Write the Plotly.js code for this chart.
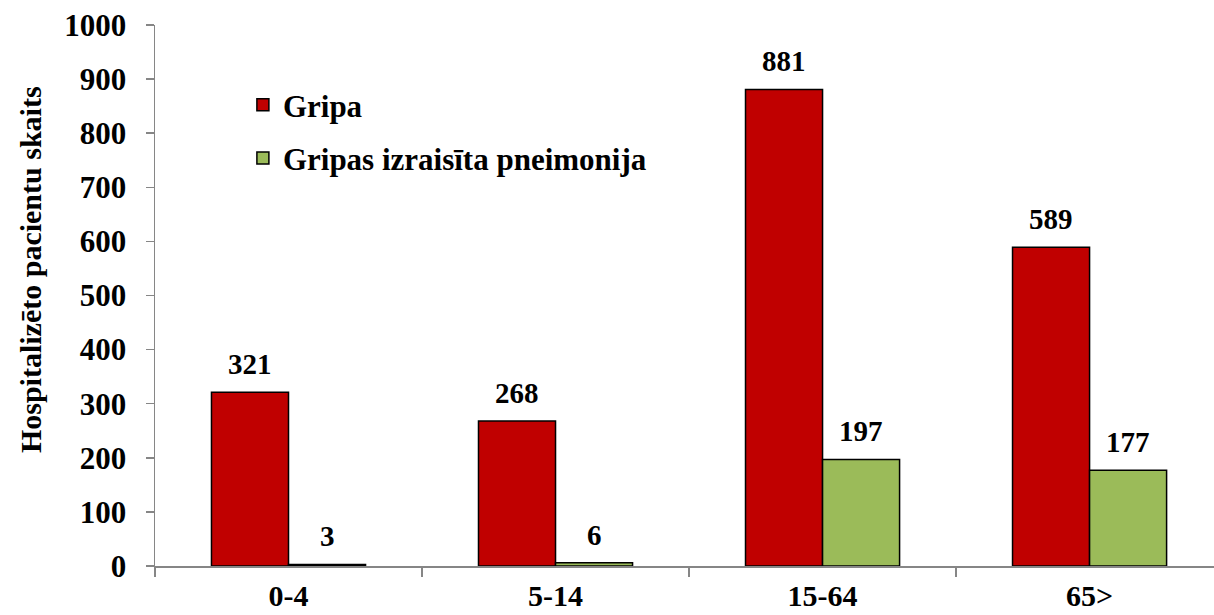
<!DOCTYPE html>
<html>
<head>
<meta charset="utf-8">
<script src="https://cdn.plot.ly/plotly-3.0.1.min.js"></script>
<style>
html,body{margin:0;padding:0;background:#fff;}
#chart{width:1214px;height:615px;}
</style>
</head>
<body>
<div id="chart"></div>
<script>
const categories = ['0-4', '5-14', '15-64', '65>'];
const seriesNames = ['Gripa', 'Gripas izraisīta pneimonija'];
const gripa = [321, 268, 881, 589];
const pneimonija = [3, 6, 197, 177];
const yTicks = [0, 100, 200, 300, 400, 500, 600, 700, 800, 900, 1000];
const yTitle = 'Hospitalizēto pacientu skaits';

const FONT = 'Liberation Serif';
const colors = ['#C00000', '#9BBB59'];
const series = [gripa, pneimonija];

const traces = series.map((vals, i) => ({
  type: 'bar',
  name: '<b>' + seriesNames[i] + '</b>',
  x: categories,
  y: vals,
  legendgroup: 'g' + i,
  marker: {color: colors[i], line: {color: '#000000', width: 1.5}},
  hoverinfo: 'none'
}));

const offsets = [-0.1443, 0.1443];
const annotations = [];
series.forEach((vals, i) => {
  vals.forEach((v, j) => {
    annotations.push({
      x: j + offsets[i], y: v, xref: 'x', yref: 'y',
      text: '<b>' + v + '</b>', showarrow: false,
      yanchor: 'bottom', yshift: 10,
      font: {family: FONT, size: 29, color: '#000'}
    });
  });
});
// y-axis title
annotations.push({
  xref: 'paper', yref: 'paper', x: -0.118, y: 0.547,
  xanchor: 'center', yanchor: 'middle', textangle: -90,
  text: '<b>' + yTitle + '</b>', showarrow: false,
  font: {family: FONT, size: 30, color: '#000'}
});

const layout = {
  width: 1214, height: 615,
  margin: {l: 155, r: 0, t: 25, b: 49},
  paper_bgcolor: '#fff', plot_bgcolor: '#fff',
  font: {family: FONT, color: '#000', size: 30},
  barmode: 'group',
  bargap: 0.423, bargroupgap: 0,
  showlegend: true,
  legend: {
    x: 0.083, y: 0.902, xanchor: 'left', yanchor: 'top',
    bgcolor: 'rgba(0,0,0,0)',
    font: {family: FONT, size: 31, color: '#000'},
    traceorder: 'grouped', tracegroupgap: 10
  },
  xaxis: {
    type: 'category',
    range: [-0.5, 3.466],
    tickvals: categories,
    ticktext: categories.map(c => '<b>' + c.replace('>', '&gt;') + '</b>'),
    showline: true, linecolor: '#868686', linewidth: 1.5,
    ticks: 'outside', tickson: 'boundaries', ticklen: 9, tickcolor: '#868686', tickwidth: 1.5,
    ticklabelstandoff: 2,
    tickfont: {family: FONT, size: 30, color: '#000'},
    showgrid: false, zeroline: false, fixedrange: true
  },
  yaxis: {
    range: [0, 1000],
    tickvals: yTicks,
    ticktext: yTicks.map(t => '<b>' + t + '</b>'),
    showline: true, linecolor: '#868686', linewidth: 1.5,
    ticks: 'outside', ticklen: 8, tickcolor: '#868686', tickwidth: 1.5,
    ticklabelstandoff: 13,
    tickfont: {family: FONT, size: 31, color: '#000'},
    showgrid: false, zeroline: false,
    automargin: false
  },
  annotations: annotations
};

Plotly.newPlot('chart', traces, layout, {displayModeBar: false, staticPlot: true});
</script>
</body>
</html>
